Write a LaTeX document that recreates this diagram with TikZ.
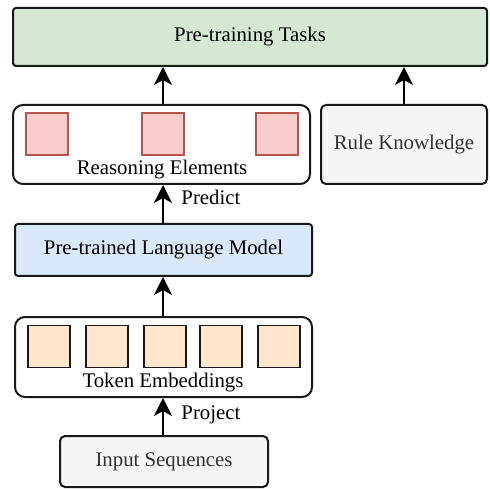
\documentclass[tikz,border=0pt]{standalone}
\usepackage{fontspec}
\setmainfont{Liberation Serif}
\usetikzlibrary{arrows.meta}
\definecolor{taskgreen}{HTML}{D5E8D4}
\definecolor{lmblue}{HTML}{DAE8FC}
\definecolor{rulegray}{HTML}{F5F5F5}
\definecolor{elemred}{HTML}{F8CECC}
\definecolor{elemline}{HTML}{B85450}
\definecolor{tokorange}{HTML}{FFE6CC}
\definecolor{txtgray}{HTML}{333333}

\begin{document}
\begin{tikzpicture}[x=0.5pt,y=-0.5pt,
    font=\fontsize{10.4}{12}\selectfont,
    box/.style={draw=black!90, line width=1pt, rounded corners=1.5pt, inner sep=0pt},
    group/.style={draw=black!90, line width=1pt, rounded corners=5pt, fill=white, inner sep=0pt},
    elem/.style={draw=elemline, line width=0.8pt, fill=elemred, minimum size=21pt, inner sep=0pt},
    tok/.style={draw=black!90, line width=0.8pt, fill=tokorange, minimum size=21pt, inner sep=0pt},
    flow/.style={-{Stealth[length=9pt,width=9pt,inset=2.5pt]}, line width=0.8pt}]
        \useasboundingbox (0,0) rectangle (489,490);
        % top
        \node[box, fill=taskgreen, minimum width=237pt, minimum height=29pt] (tasks) at (250,37) {Pre-training Tasks};
        \node[group, minimum width=148.5pt, minimum height=39.5pt] (reason) at (161.5,144.5) {};
        \node[box, fill=rulegray, text=txtgray, rounded corners=2.5pt, minimum width=83pt, minimum height=39.5pt] (rule) at (404,144.5) {Rule Knowledge};
        \node[elem] (e1) at (47,134) {};
        \node[elem] (e2) at (163,134) {};
        \node[elem] (e3) at (277,134) {};
        \node (reasonlbl) at (162,170) {Reasoning Elements};
        % middle
        \node[box, fill=lmblue, minimum width=148.5pt, minimum height=26pt] (plm) at (163.5,250) {Pre-trained Language Model};
        \node[group, minimum width=148.5pt, minimum height=40pt] (token) at (163.5,357) {};
        \foreach \i/\x in {1/49,2/107,3/165,4/221,5/279}
            \node[tok] (t\i) at (\x,346.5) {};
        \node (tokenlbl) at (163,383) {Token Embeddings};
        % bottom
        \node[box, fill=rulegray, text=txtgray, rounded corners=2.5pt, minimum width=104pt, minimum height=25.5pt] (input) at (164,461.5) {Input Sequences};
        % arrows
        \draw[flow] (reason.north -| e2) -- (tasks.south -| e2);
        \draw[flow] (rule.north) -- (rule.north |- tasks.south);
        \draw[flow] (plm.north -| e2) -- node[right, pos=0.68, xshift=5.5pt] {Predict} (reason.south -| e2);
        \draw[flow] (token.north -| e2) -- (plm.south -| e2);
        \draw[flow] (input.north -| e2) -- node[right, pos=0.55, xshift=5.5pt] {Project} (token.south -| e2);
\end{tikzpicture}
\end{document}
